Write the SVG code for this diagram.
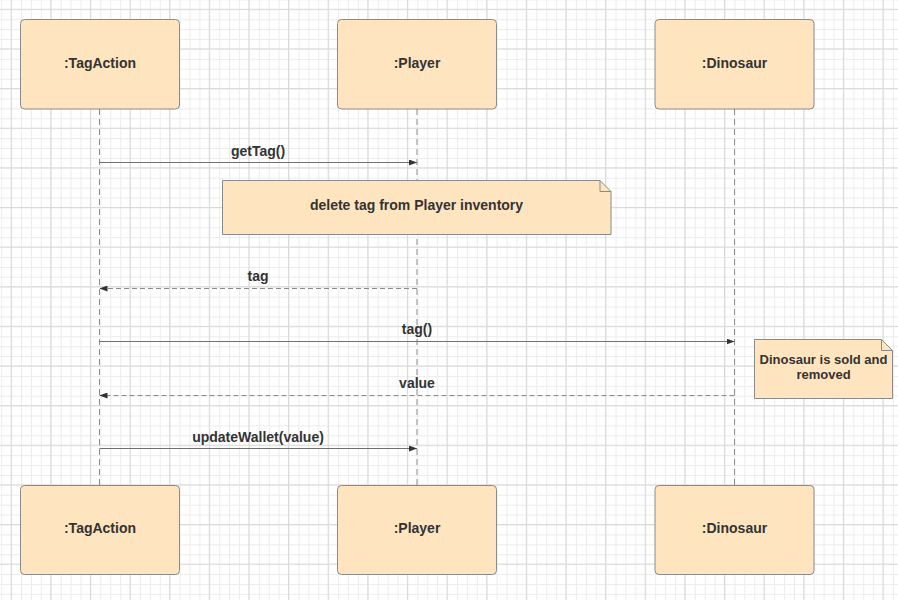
<svg xmlns="http://www.w3.org/2000/svg" width="898" height="600" viewBox="0 0 898 600">
  <style>
    .box { fill: #ffe5bf; stroke: #8a8a8a; stroke-width: 1; }
    .note { fill: #ffe5bf; stroke: #8a8a8a; stroke-width: 1; }
    .lbl { font-family: "Liberation Sans", Arial, sans-serif; font-weight: bold; font-size: 14px; fill: #333333; text-anchor: middle; }
    .nlbl { font-family: "Liberation Sans", Arial, sans-serif; font-weight: bold; font-size: 13px; fill: #333333; text-anchor: middle; }
    .life { stroke: #8c8c8c; stroke-width: 1; stroke-dasharray: 6 4; fill: none; }
    .msg { stroke: #707070; stroke-width: 1; fill: none; marker-end: url(#arr); }
    .ret { stroke: #8c8c8c; stroke-width: 1; stroke-dasharray: 5 3; fill: none; marker-end: url(#arr); }
  </style>
  <defs>
    <pattern id="minor" patternUnits="userSpaceOnUse" x="1.24" y="-0.61" width="9.908" height="9.908">
      <path d="M0.5 0 V9.908 M0 0.5 H9.908" stroke="#ececec" stroke-width="1" fill="none"/>
    </pattern>
    <pattern id="major" patternUnits="userSpaceOnUse" x="10.65" y="8.8" width="39.63" height="39.63">
      <path d="M0.5 0 V39.63 M0 0.5 H39.63" stroke="#d9d9d9" stroke-width="1" fill="none"/>
    </pattern>
    <marker id="arr" viewBox="0 0 8 6" refX="8" refY="3" markerWidth="8" markerHeight="6" markerUnits="userSpaceOnUse" orient="auto">
      <path d="M0 0 L8 3 L0 6 Z" fill="#333333"/>
    </marker>
  </defs>
  <rect x="0" y="0" width="898" height="600" fill="#ffffff"/>
  <rect x="0" y="0" width="898" height="600" fill="url(#minor)"/>
  <rect x="0" y="0" width="898" height="600" fill="url(#major)"/>

  <g id="lifelines">
    <line class="life" x1="99.5" y1="109" x2="99.5" y2="485"/>
    <line class="life" x1="417" y1="109" x2="417" y2="485"/>
    <line class="life" x1="734.5" y1="109" x2="734.5" y2="485"/>
  </g>

  <g id="tagaction-top">
    <rect class="box" x="20.5" y="19.5" width="159" height="89.5" rx="4"/>
    <text class="lbl" x="100" y="68">:TagAction</text>
  </g>
  <g id="player-top">
    <rect class="box" x="337.5" y="19.5" width="159" height="89.5" rx="4"/>
    <text class="lbl" x="417" y="68">:Player</text>
  </g>
  <g id="dinosaur-top">
    <rect class="box" x="655" y="19.5" width="159" height="89.5" rx="4"/>
    <text class="lbl" x="734.5" y="68">:Dinosaur</text>
  </g>

  <g id="tagaction-bottom">
    <rect class="box" x="20.5" y="485.5" width="159" height="89" rx="4"/>
    <text class="lbl" x="100" y="532.5">:TagAction</text>
  </g>
  <g id="player-bottom">
    <rect class="box" x="337.5" y="485.5" width="159" height="89" rx="4"/>
    <text class="lbl" x="417" y="532.5">:Player</text>
  </g>
  <g id="dinosaur-bottom">
    <rect class="box" x="655" y="485.5" width="159" height="89" rx="4"/>
    <text class="lbl" x="734.5" y="532.5">:Dinosaur</text>
  </g>

  <g id="note-delete">
    <path class="note" d="M222.5 180.5 H600 L611 191.5 V234.5 H222.5 Z"/>
    <path d="M600 180.5 V191.5 H611" fill="none" stroke="#8a8a8a" stroke-width="1"/>
    <text class="lbl" x="416.5" y="210">delete tag from Player inventory</text>
  </g>

  <g id="note-dinosaur">
    <path class="note" d="M754.5 339.5 H881.5 L892.5 350.5 V398.5 H754.5 Z"/>
    <path d="M881.5 339.5 V350.5 H892.5" fill="none" stroke="#8a8a8a" stroke-width="1"/>
    <text class="nlbl" x="823.5" y="364">Dinosaur is sold and</text>
    <text class="nlbl" x="823.5" y="379">removed</text>
  </g>

  <g id="connectors">
    <line class="msg" x1="99.5" y1="162.5" x2="417" y2="162.5"/>
    <text class="lbl" x="258" y="156">getTag()</text>

    <line class="ret" x1="417" y1="288.5" x2="99.5" y2="288.5"/>
    <text class="lbl" x="258" y="281">tag</text>

    <line class="msg" x1="99.5" y1="341.5" x2="734.5" y2="341.5"/>
    <text class="lbl" x="417" y="334">tag()</text>

    <line class="ret" x1="734.5" y1="395.5" x2="99.5" y2="395.5"/>
    <text class="lbl" x="417" y="388">value</text>

    <line class="msg" x1="99.5" y1="448.5" x2="417" y2="448.5"/>
    <text class="lbl" x="258" y="441.5">updateWallet(value)</text>
  </g>
</svg>
